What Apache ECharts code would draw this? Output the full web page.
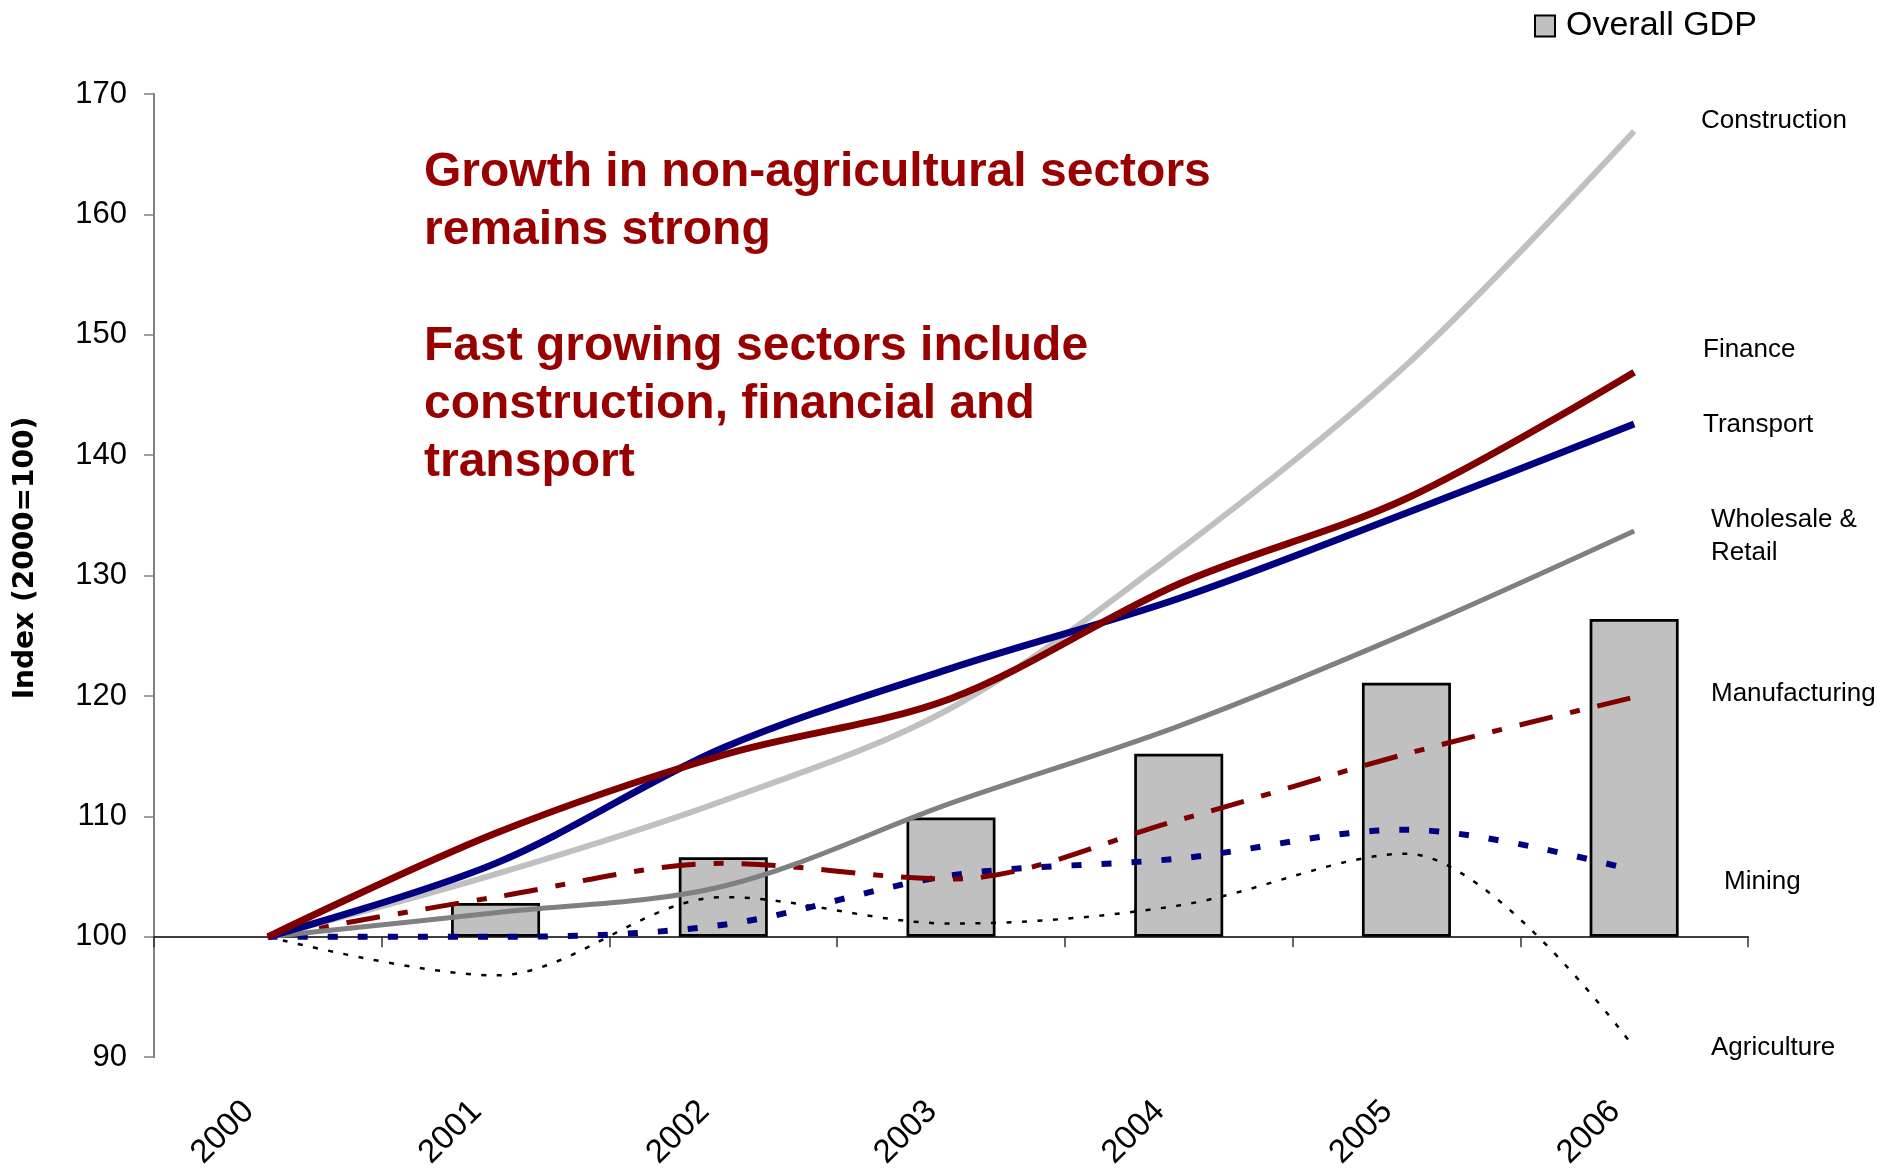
<!DOCTYPE html>
<html><head><meta charset="utf-8">
<script src="https://cdn.jsdelivr.net/npm/echarts@6/dist/echarts.min.js"></script>
<style>html,body{margin:0;padding:0;background:#fff}#c{width:1883px;height:1172px}</style>
</head><body><div id="c"></div>
<script>
// ---- data ----
const years = ['2000', '2001', '2002', '2003', '2004', '2005', '2006'];
const overallGDP    = [100, 102.8, 106.6, 109.9, 115.2, 121.1, 126.4];
const construction  = [100, 105.2, 111.3, 119.0, 132.1, 147.5, 166.9];
const finance       = [100, 108.6, 115.1, 119.8, 129.3, 136.4, 146.9];
const transport     = [100, 106.1, 115.7, 122.3, 128.1, 135.2, 142.6];
const wholesale     = [100, 102.0, 104.2, 111.1, 117.5, 125.2, 133.7];
const manufacturing = [100, 103.3, 106.1, 104.8, 109.7, 115.2, 119.9];
const mining        = [100, 100.0, 101.0, 105.1, 106.5, 108.9, 105.5];
const agriculture   = [100, 96.8, 103.3, 101.1, 102.6, 106.9, 90.8];
const yTicks = {min: 90, max: 170, step: 10, base: 100};

// ---- layout ----
const FONT = "'Liberation Sans', Arial, sans-serif";
const G = {left: 154, right: 135, top: 94, bottom: 111};
const gridH = 1172 - G.top - G.bottom;
const baseOffset = -gridH * (yTicks.base - yTicks.min) / (yTicks.max - yTicks.min);

const chart = echarts.init(document.getElementById('c'));

function line(name, data, color, width, type, z) {
  return {
    type: 'line', name, data, xAxisIndex: 0, smooth: 0.33, showSymbol: false, symbol: 'none',
    lineStyle: {color, width, type, cap: 'butt', join: 'round'}, z, silent: true
  };
}

const barData = overallGDP.map(v => v === yTicks.base ? {value: v, itemStyle: {borderWidth: 0}} : v);

const labels = [
  ['Construction', 1701, 121],
  ['Finance', 1703, 350],
  ['Transport', 1703, 425],
  ['Wholesale &', 1711, 520],
  ['Retail', 1711, 553],
  ['Manufacturing', 1711, 694],
  ['Mining', 1724, 882],
  ['Agriculture', 1711, 1048]
];

chart.setOption({
  animation: false,
  backgroundColor: '#fff',
  grid: {left: G.left, right: G.right, top: G.top, bottom: G.bottom, containLabel: false},
  legend: {
    data: ['Overall GDP'], left: 1529, top: 4, itemWidth: 20, itemHeight: 21, icon: 'rect',
    selectedMode: false,
    textStyle: {fontSize: 34, color: '#000', fontFamily: FONT, padding: [0, 0, 0, 6]}
  },
  xAxis: [
    {
      type: 'category', data: years, position: 'bottom', boundaryGap: true,
      axisLine: {show: false}, axisTick: {show: false}, splitLine: {show: false},
      axisLabel: {rotate: 45, interval: 0, fontSize: 33, color: '#000', fontFamily: FONT, margin: 30, padding: [0, 27, 0, 0]}
    },
    {
      type: 'category', data: years, position: 'bottom', offset: baseOffset, boundaryGap: true,
      axisLine: {show: true, onZero: false, lineStyle: {color: '#000', width: 1.5}},
      axisTick: {show: true, length: 11, lineStyle: {color: '#333', width: 1.5}},
      axisLabel: {show: false}, splitLine: {show: false}
    }
  ],
  yAxis: {
    type: 'value', min: yTicks.min, max: yTicks.max, interval: yTicks.step, startValue: yTicks.base,
    axisLine: {show: true, lineStyle: {color: '#808080', width: 2}},
    axisTick: {show: true, length: 10, lineStyle: {color: '#808080', width: 1.5}},
    splitLine: {show: false},
    axisLabel: {fontSize: 31, color: '#000', fontFamily: FONT, margin: 27}
  },
  series: [
    {
      type: 'bar', name: 'Overall GDP', data: barData, xAxisIndex: 0, barWidth: 89, z: 1, silent: true,
      itemStyle: {color: '#C0C0C0', borderColor: '#000', borderWidth: 2.7}
    },
    line('Agriculture', agriculture, '#000', 2.5, [5, 10.5], 2),
    line('Mining', mining, '#000080', 6, [10, 20], 3),
    line('Manufacturing', manufacturing, '#800000', 5, [34, 18, 10, 18], 4),
    line('Wholesale & Retail', wholesale, '#808080', 5, 'solid', 5),
    line('Construction', construction, '#C0C0C0', 6, 'solid', 6),
    line('Transport', transport, '#000080', 7, 'solid', 7),
    line('Finance', finance, '#800000', 7, 'solid', 8)
  ],
  graphic: [
    {
      type: 'text', x: 26, y: 558, rotation: Math.PI / 2, silent: true,
      style: {text: 'Index (2000=100)', fill: '#000', font: "bold 28px 'DejaVu Sans', Verdana, sans-serif", align: 'center', verticalAlign: 'middle'}
    },
    {
      type: 'text', x: 424, y: 144, silent: true,
      style: {
        text: 'Growth in non-agricultural sectors\nremains strong\n\nFast growing sectors include\nconstruction, financial and\ntransport',
        fill: '#990000', font: "bold 48px " + FONT, lineHeight: 58, align: 'left', verticalAlign: 'top'
      }
    }
  ].concat(labels.map(([t, x, y]) => ({
    type: 'text', x, y, silent: true,
    style: {text: t, fill: '#000', font: '26px ' + FONT, align: 'left', verticalAlign: 'middle'}
  })))
});
</script>
</body></html>
